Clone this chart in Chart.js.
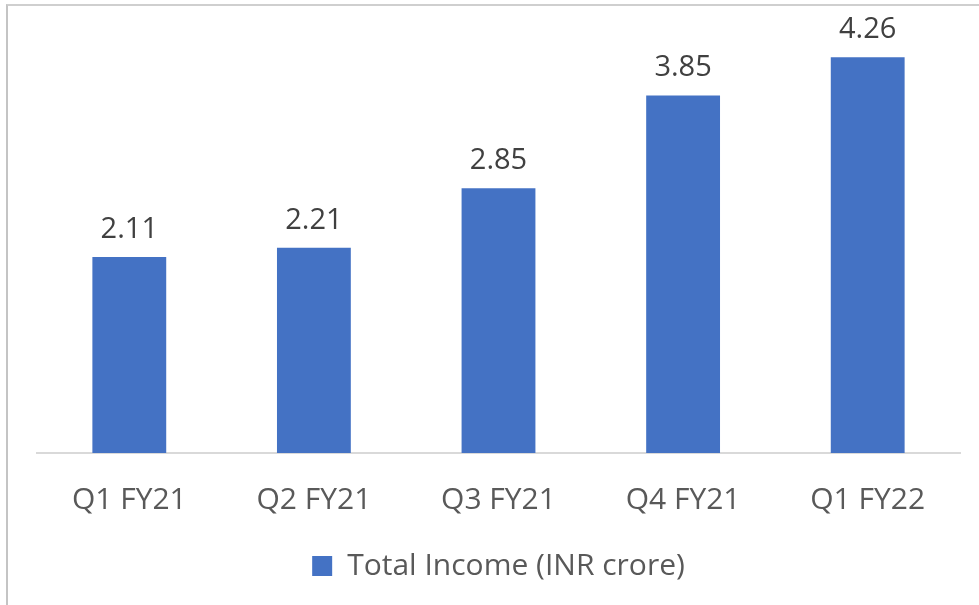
<!DOCTYPE html>
<html>
<head>
<meta charset="utf-8">
<script src="https://cdn.jsdelivr.net/npm/chart.js@4"></script>
<style>
  html, body { margin: 0; padding: 0; background: #fff; }
  #frame {
    position: absolute; left: 6px; top: 4px;
    width: 973px; height: 601px;
    border-left: 2px solid #c4c4c4; border-top: 2px solid #cfcfcf;
    box-sizing: border-box;
  }
  #wrap { position: absolute; left: 0; top: 0; width: 971px; height: 599px; }
</style>
</head>
<body>
<div id="frame"><div id="wrap"><canvas id="chart"></canvas></div></div>
<script>
const quarters = ["Q1 FY21", "Q2 FY21", "Q3 FY21", "Q4 FY21", "Q1 FY22"];
const totalIncome = [2.11, 2.21, 2.85, 3.85, 4.26];
const seriesName = "Total Income (INR crore)";

const textColor = "#595959";
const barColor = "#4472C4";
const fontFamily = "'Open Sans', 'Noto Sans', sans-serif";

// value labels above each bar
const valueLabels = {
    id: "valueLabels",
    afterDatasetsDraw(chart) {
        const ctx = chart.ctx;
        const meta = chart.getDatasetMeta(0);
        ctx.save();
        ctx.font = "29px " + fontFamily;
        ctx.fillStyle = "#404040";
        ctx.textAlign = "center";
        ctx.textBaseline = "alphabetic";
        meta.data.forEach((bar, i) => {
            ctx.fillText(totalIncome[i].toFixed(2), bar.x, bar.y - 19);
        });
        ctx.restore();
    }
};

new Chart(document.getElementById("chart"), {
    type: "bar",
    data: {
        labels: quarters,
        datasets: [{
            label: seriesName,
            data: totalIncome,
            backgroundColor: barColor,
            borderWidth: 0,
            barPercentage: 0.4,
            categoryPercentage: 1.0
        }]
    },
    options: {
        responsive: true,
        maintainAspectRatio: false,
        animation: false,
        layout: { padding: { left: 29, right: 19, top: 29, bottom: 14 } },
        plugins: {
            legend: {
                position: "bottom",
                labels: {
                    color: textColor,
                    font: { family: fontFamily, size: 30 },
                    boxWidth: 20,
                    boxHeight: 20,
                    padding: 12
                }
            },
            tooltip: { enabled: false }
        },
        scales: {
            x: {
                grid: { display: false },
                border: { display: true, color: "#d9d9d9", width: 2 },
                ticks: {
                    color: textColor,
                    font: { family: fontFamily, size: 30 },
                    padding: 21,
                    maxRotation: 0
                }
            },
            y: {
                display: false,
                min: 0,
                max: 4.5
            }
        }
    },
    plugins: [valueLabels]
});
</script>
</body>
</html>
